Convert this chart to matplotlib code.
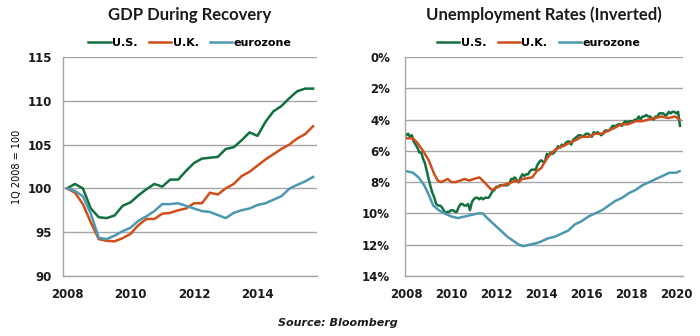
import numpy as np
import matplotlib
matplotlib.use("Agg")
import matplotlib.pyplot as plt
from matplotlib.ticker import FuncFormatter

# Цвета серий
C_US = '#12703f'
C_UK = '#cf4f1c'
C_EZ = '#4b98b0'

# ВВП, квартально с 1Q2008 по 4Q2015 (1Q2008 = 100)
gdp_us = [100.0, 100.5, 100.0, 97.7, 96.7, 96.6, 96.9, 98.0, 98.4, 99.2,
          99.9, 100.5, 100.2, 101.0, 101.0, 102.0, 102.9, 103.4, 103.5, 103.6,
          104.5, 104.7, 105.5, 106.4, 106.0, 107.6, 108.8, 109.4, 110.3, 111.1,
          111.4, 111.4]
gdp_uk = [100.0, 99.5, 98.2, 96.1, 94.2, 94.0, 93.95, 94.3, 94.8, 95.8,
          96.5, 96.5, 97.1, 97.2, 97.5, 97.7, 98.3, 98.3, 99.5, 99.3,
          100.0, 100.5, 101.4, 101.9, 102.6, 103.3, 103.9, 104.5, 105.0, 105.7,
          106.2, 107.1]
gdp_ez = [100.0, 99.7, 99.1, 97.1, 94.35, 94.2, 94.6, 95.1, 95.5, 96.3,
          96.8, 97.4, 98.2, 98.2, 98.3, 98.0, 97.7, 97.4, 97.3, 96.95,
          96.6, 97.2, 97.5, 97.7, 98.1, 98.3, 98.7, 99.1, 99.96, 100.4,
          100.8, 101.3]
gdp_years = 2008 + np.arange(len(gdp_us)) / 4

# Безработица в США, помесячно с янв. 2008 по март 2020
unemp_us = [5.0, 4.9, 5.1, 5.0, 5.4, 5.6, 5.8, 6.1, 6.1, 6.5, 6.8, 7.3,
            7.8, 8.3, 8.7, 9.0, 9.4, 9.5, 9.5, 9.6, 9.8, 10.0, 9.9, 9.9,
            9.8, 9.8, 9.9, 9.9, 9.6, 9.4, 9.4, 9.5, 9.5, 9.4, 9.8, 9.3,
            9.1, 9.0, 9.0, 9.1, 9.0, 9.1, 9.0, 9.0, 9.0, 8.8, 8.6, 8.5,
            8.3, 8.3, 8.2, 8.2, 8.2, 8.2, 8.2, 8.1, 7.8, 7.8, 7.7, 7.9,
            8.0, 7.7, 7.5, 7.6, 7.5, 7.5, 7.3, 7.2, 7.2, 7.2, 6.9, 6.7,
            6.6, 6.7, 6.7, 6.2, 6.3, 6.1, 6.2, 6.1, 5.9, 5.7, 5.8, 5.6,
            5.7, 5.5, 5.4, 5.4, 5.6, 5.3, 5.2, 5.1, 5.0, 5.0, 5.1, 5.0,
            4.9, 4.9, 5.0, 5.1, 4.8, 4.9, 4.8, 4.9, 5.0, 4.9, 4.7, 4.7,
            4.7, 4.6, 4.4, 4.4, 4.4, 4.3, 4.3, 4.4, 4.2, 4.1, 4.2, 4.1,
            4.1, 4.1, 4.0, 4.0, 3.8, 4.0, 3.8, 3.8, 3.7, 3.8, 3.8, 3.9,
            4.0, 3.8, 3.8, 3.6, 3.6, 3.6, 3.7, 3.7, 3.5, 3.6, 3.5, 3.5,
            3.6, 3.5, 4.4]
us_years = 2008 + np.arange(len(unemp_us)) / 12

# Великобритания (даты в долях года)
uk_years = [2008.0, 2008.3, 2008.5, 2008.75, 2009.0, 2009.25, 2009.4, 2009.55,
            2009.7, 2009.85, 2010.0, 2010.2, 2010.4, 2010.6, 2010.8, 2011.0,
            2011.25, 2011.4, 2011.6, 2011.8, 2011.95, 2012.25, 2012.55, 2012.85,
            2013.0, 2013.15, 2013.6, 2013.8, 2014.0, 2014.2, 2014.35, 2014.65,
            2014.95, 2015.25, 2015.55, 2015.8, 2016.1, 2016.4, 2016.7, 2017.0,
            2017.3, 2017.55, 2017.85, 2018.2, 2018.5, 2018.75, 2019.05, 2019.35,
            2019.65, 2019.95, 2020.15]
unemp_uk = [5.2, 5.2, 5.5, 6.0, 6.6, 7.5, 7.9, 8.0,
            7.9, 7.8, 8.0, 8.0, 7.9, 7.8, 7.9, 7.8,
            7.7, 7.9, 8.2, 8.5, 8.4, 8.2, 8.1, 7.9,
            8.0, 7.8, 7.7, 7.3, 7.1, 6.6, 6.3, 5.9,
            5.7, 5.5, 5.3, 5.1, 5.1, 4.9, 4.9, 4.7,
            4.5, 4.3, 4.3, 4.1, 4.1, 4.0, 3.9, 3.8,
            3.9, 3.8, 4.0]

# Еврозона
ez_years = [2008.0, 2008.3, 2008.55, 2008.8, 2009.0, 2009.2, 2009.45, 2009.7,
            2010.0, 2010.3, 2010.6, 2010.9, 2011.2, 2011.4, 2011.6, 2011.9,
            2012.2, 2012.5, 2012.8, 2013.0, 2013.2, 2013.5, 2013.8, 2014.0,
            2014.3, 2014.6, 2014.9, 2015.2, 2015.5, 2015.8, 2016.1, 2016.4,
            2016.7, 2017.0, 2017.3, 2017.6, 2017.9, 2018.2, 2018.5, 2018.8,
            2019.1, 2019.4, 2019.7, 2020.0, 2020.15]
unemp_ez = [7.3, 7.4, 7.7, 8.2, 8.8, 9.5, 9.8, 10.0,
            10.2, 10.3, 10.2, 10.1, 10.0, 10.0, 10.3, 10.7,
            11.1, 11.5, 11.8, 12.0, 12.1, 12.0, 11.9, 11.8,
            11.6, 11.5, 11.3, 11.1, 10.7, 10.5, 10.2, 10.0,
            9.8, 9.5, 9.2, 9.0, 8.7, 8.5, 8.2, 8.0,
            7.8, 7.6, 7.4, 7.4, 7.3]

plt.rcParams['font.family'] = ['DejaVu Sans']
fig = plt.figure(figsize=(7, 3.36), dpi=100)

ax1 = fig.add_axes([0.09, 0.179, 0.363, 0.651])
ax2 = fig.add_axes([0.579, 0.179, 0.397, 0.651])


def style(ax, pad_y):
    for s in ['top', 'right']:
        ax.spines[s].set_visible(False)
    for s in ['left', 'bottom']:
        ax.spines[s].set_color('#a6a6a6')
        ax.spines[s].set_linewidth(1.0)
    ax.yaxis.grid(True, color='#a6a6a6', linewidth=1.0)
    ax.set_axisbelow(True)
    ax.tick_params(length=0, labelsize=8.5, labelcolor='#1a1a1a')
    ax.tick_params(axis='x', pad=9)
    ax.tick_params(axis='y', pad=pad_y)
    for lab in ax.get_xticklabels() + ax.get_yticklabels():
        lab.set_fontweight('bold')


title_font = {'family': ['Lato', 'DejaVu Sans'], 'size': 12,
              'weight': 'bold', 'color': '#1a1a1a'}

lw = 1.8
ax1.plot(gdp_years, gdp_us, color=C_US, lw=lw, label='U.S.')
ax1.plot(gdp_years, gdp_uk, color=C_UK, lw=lw, label='U.K.')
ax1.plot(gdp_years, gdp_ez, color=C_EZ, lw=lw, label='eurozone')
ax1.set_xlim(2007.874, 2015.876)
ax1.set_ylim(90, 115)
ax1.set_xticks([2008, 2010, 2012, 2014])
ax1.set_yticks([90, 95, 100, 105, 110, 115])
style(ax1, 8)
ax1.set_ylabel('1Q 2008 = 100', fontsize=7, labelpad=4)
ax1.set_title('GDP During Recovery', fontdict=title_font, pad=27)

ax2.plot(us_years, unemp_us, color=C_US, lw=lw, label='U.S.')
ax2.plot(uk_years, unemp_uk, color=C_UK, lw=lw, label='U.K.')
ax2.plot(ez_years, unemp_ez, color=C_EZ, lw=lw, label='eurozone')
ax2.set_xlim(2007.96, 2020.31)
ax2.set_ylim(14, 0)
ax2.set_xticks(range(2008, 2021, 2))
ax2.set_yticks(range(0, 15, 2))
ax2.yaxis.set_major_formatter(FuncFormatter(lambda v, p: f'{v:.0f}%'))
style(ax2, 11)
ax2.set_title('Unemployment Rates (Inverted)', fontdict=title_font, pad=27)

for ax, dx in [(ax1, 0.0), (ax2, -0.02)]:
    ax.legend(loc='lower center', bbox_to_anchor=(0.5 + dx, 1.01), ncol=3,
              frameon=False, handlelength=2.0, handletextpad=0.15,
              columnspacing=1.0, borderaxespad=0.2,
              prop={'size': 8, 'weight': 'bold'})

fig.text(0.483, 0.023, 'Source: Bloomberg', fontsize=8, fontweight='bold',
         style='italic', ha='center', va='bottom', color='#1a1a1a')

fig.savefig('out.png', dpi=100)
